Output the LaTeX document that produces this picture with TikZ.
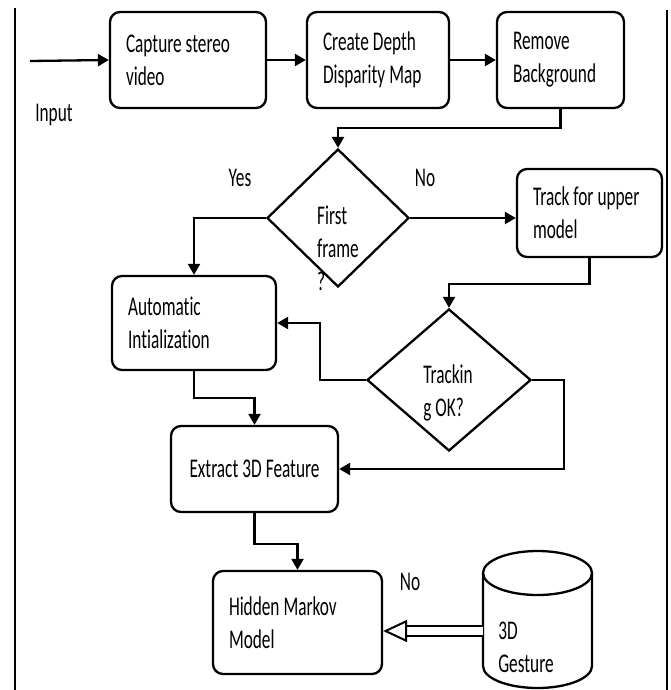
\documentclass[tikz,border=0pt]{standalone}
\usepackage{fontspec}
\setmainfont{Carlito}[FakeStretch=0.64, Ligatures=NoCommon]
\usetikzlibrary{shapes.geometric, arrows.meta}

\newcommand\tightspace{\spaceskip=4pt plus 1pt minus 1pt\relax}

\tikzset{
  proc/.style = {draw, rounded corners=10pt, line width=2.3pt, align=left, inner xsep=16pt, inner ysep=0pt},
  decision/.style = {draw, diamond, line width=2.3pt, inner sep=0pt},
  arr/.style = {line width=2.3pt, -{Triangle[length=11pt, width=12pt]}},
  lbl/.style = {inner sep=0pt, align=left},
  every node/.append style = {execute at begin node=\tightspace},
}

\begin{document}
\begin{tikzpicture}[x=1pt, y=-1pt, font=\fontsize{27}{33}\selectfont]
\useasboundingbox (0,0) rectangle (670,690);

% frame lines
\draw[line width=2.3pt] (15,8) -- (15,690);
\draw[line width=2.3pt] (667,10) -- (667,690);

\node[proc, text width=124, minimum height=96] (cap) at (188,60) {Capture stereo\\video};
\node[proc, text width=110, minimum height=96] (dep) at (378,60) {Create Depth\\Disparity Map};
\node[proc, text width=95, minimum height=96] (rem) at (560.5,60) {Remove\\Background};

\coordinate (inp) at (30,61);
\node[lbl] (input) at (54,115) {Input};

\node[decision, minimum width=142, minimum height=138] (first) at (338,218) {};
\node[lbl] (firstq) at (338,248) {First\\frame\\?};
\node[lbl] (yes) at (240,178) {Yes};
\node[lbl] (no) at (425,178) {No};

\node[proc, text width=113, minimum height=88] (trk) at (589.5,213) {Track for upper\\model};

\node[proc, text width=132, minimum height=94] (aut) at (194,323) {Automatic\\Intialization};

\node[decision, minimum width=164, minimum height=142] (track) at (449,380) {};
\node[lbl] (trackq) at (448,393) {Trackin\\g OK?};

\node[proc, align=center, text width=135, minimum height=86] (ext) at (254.5,469) {Extract 3D Feature};

\node[proc, text width=137, minimum height=103] (hmm) at (297.5,622.5) {Hidden Markov\\Model};
\node[lbl] (no2) at (410,582) {No};

% gesture store
\coordinate (gest) at (483,631);
\draw[line width=2.3pt] (483,573) -- (483,666) arc[start angle=180, end angle=0, x radius=54.5, y radius=22] -- (592,573);
\draw[line width=2.3pt] (537.5,573) ellipse[x radius=54.5, y radius=22];
\node[lbl] (gestq) at (526,647) {3D\\Gesture};

\draw[arr] (inp) -- (cap.west);
\draw[arr] (cap.east) -- (dep.west);
\draw[arr] (dep.east) -- (rem.west);
\draw[arr] (rem.south) -- ++(0,19) -| (first.north);
\draw[arr] (first.west) -| (aut.north);
\draw[arr] (first.east) -- (first.east -| trk.west);
\draw[arr] (trk.south) -- ++(0,26) -| (track.north);
\draw[arr] (track.west) -- ++(-46,0) |- (aut.east);
\draw[arr] (track.east) -- ++(32,0) |- (ext.east);
\draw[arr] (aut.south) -- ++(0,27) -| (ext.north);
\draw[arr] (ext.south) -- ++(0,31) -| (hmm.north);
\draw[line width=2pt, double, double distance=8pt, -{Triangle[open, length=24pt, width=22pt]}]
  (gest) -- (gest -| hmm.east);

\end{tikzpicture}
\end{document}
